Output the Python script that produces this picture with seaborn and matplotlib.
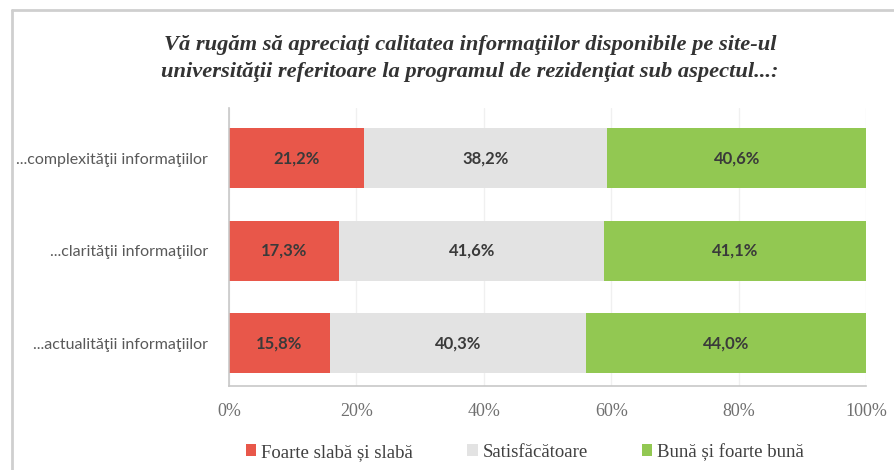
import matplotlib
matplotlib.use("Agg")
import matplotlib.pyplot as plt
from matplotlib.lines import Line2D
from matplotlib.patches import Patch
import numpy as np
import pandas as pd
import seaborn as sns

# Survey data (percent of respondents)
categories = ["...complexităţii informaţiilor",
              "...clarităţii informaţiilor",
              "...actualităţii informaţiilor"]
weak = [21.2, 17.3, 15.8]          # Foarte slabă și slabă
satisfactory = [38.2, 41.6, 40.3]  # Satisfăcătoare
good = [40.6, 41.1, 44.0]          # Bună și foarte bună
series_names = ["Foarte slabă și slabă", "Satisfăcătoare", "Bună și foarte bună"]
tick_labels = ["0%", "20%", "40%", "60%", "80%", "100%"]

colors = ["#E8574A", "#E3E3E3", "#92C852"]

title = ("Vă rugăm să apreciaţi calitatea informaţiilor disponibile pe site-ul\n"
         "universităţii referitoare la programul de rezidenţiat sub aspectul...:")

sns.set_theme(style="white")
plt.rcParams["font.family"] = ["DejaVu Sans"]

df = pd.DataFrame({"cat": categories, "weak": weak,
                   "sat": satisfactory, "good": good})
df["c1"] = df["weak"]
df["c2"] = df["weak"] + df["sat"]
df["c3"] = df["weak"] + df["sat"] + df["good"]

fig = plt.figure(figsize=(8.94, 4.70), dpi=100)
ax = fig.add_axes([229 / 894, 1 - 386 / 470, (866 - 229) / 894, (386 - 108) / 470])

# Stacked bars drawn as overlapping cumulative totals
for col, color in zip(["c3", "c2", "c1"], colors[::-1]):
    sns.barplot(data=df, y="cat", x=col, color=color, orient="h",
                width=0.65, saturation=1, ax=ax, edgecolor="none", linewidth=0)

ax.set_xlim(0, 100)
ax.set_ylim(2.46, -0.54)
ax.set_xlabel("")
ax.set_ylabel("")
ax.set_xticks(np.linspace(0, 100, len(tick_labels)))
ax.set_xticklabels(tick_labels, fontfamily="Liberation Serif", fontsize=13,
                   color="#707070")
ax.tick_params(axis="x", length=0, pad=12)
ax.tick_params(axis="y", length=0, pad=15)
for lab in ax.get_yticklabels():
    lab.set_fontfamily("Lato")
    lab.set_fontsize(11.5)
    lab.set_color("#595959")

ax.xaxis.grid(True, color="#F0F0F0", linewidth=1)
ax.set_axisbelow(True)
for s in ["top", "right"]:
    ax.spines[s].set_visible(False)
for s in ["left", "bottom"]:
    ax.spines[s].set_color("#C8C8C8")
    ax.spines[s].set_linewidth(1.2)

# Value labels in the middle of each segment
for i in range(len(categories)):
    starts = [0, weak[i], weak[i] + satisfactory[i]]
    vals = [weak[i], satisfactory[i], good[i]]
    for st, v in zip(starts, vals):
        ax.text(st + v / 2, i, f"{v:.1f}".replace(".", ",") + "%",
                ha="center", va="center", fontsize=12, fontfamily="Lato",
                fontweight="bold", color="#3A3A3A")

fig.suptitle(title, x=470 / 894, y=1 - 35 / 470, fontsize=16.2,
             fontfamily="Liberation Serif", fontweight="bold", fontstyle="italic",
             color="#333333", linespacing=1.45, va="top")

handles = [Patch(facecolor=c, edgecolor="none") for c in colors]
fig.legend(handles, series_names, loc="center", ncol=3,
           bbox_to_anchor=(525 / 894, 1 - 452 / 470), frameon=False,
           handlelength=0.55, handleheight=0.6, handletextpad=0.25,
           columnspacing=2.9, prop={"family": "Liberation Serif", "size": 13.5},
           labelcolor="#404040")

# Outer frame lines
fig.add_artist(Line2D([12 / 894, 1], [1 - 10 / 470] * 2, color="#CFCFCF",
                      linewidth=2, transform=fig.transFigure))
fig.add_artist(Line2D([12 / 894] * 2, [0, 1 - 10 / 470], color="#CFCFCF",
                      linewidth=2, transform=fig.transFigure))

fig.savefig("out.png", dpi=100, facecolor="white")
